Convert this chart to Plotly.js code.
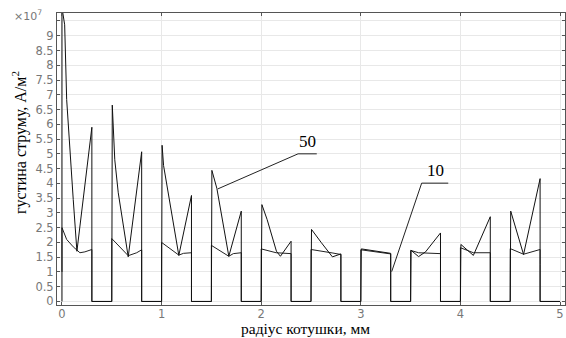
<!DOCTYPE html>
<html>
<head>
<meta charset="utf-8">
<script src="https://cdn.plot.ly/plotly-3.0.1.min.js"></script>
<style>html,body{margin:0;padding:0;background:#fff;}#chart{width:566px;height:338px;}</style>
</head>
<body>
<div id="chart"></div>
<script>
// radius, mm and current density in units of 1e7 A/m^2
const x50 = [0,0,0.027,0.047,0.113,0.15,0.30,0.30,
  0.5,0.505,0.53,0.565,0.665,0.80,0.80,
  1.0,1.005,1.02,1.173,1.30,1.30,
  1.5,1.505,1.555,1.675,1.80,1.80,
  2.0,2.007,2.06,2.153,2.193,2.30,2.30,
  2.5,2.505,2.604,2.715,2.80,2.80,
  3.0,3.005,3.30,3.30,
  3.5,3.505,3.58,3.65,3.72,3.80,3.80,
  4.0,4.005,4.13,4.30,4.30,
  4.5,4.505,4.634,4.80,4.80,5.0];
const y50 = [0,9.95,9.37,6.84,3.45,1.70,5.90,0,
  0,6.65,4.80,3.68,1.51,5.07,0,
  0,5.29,4.60,1.56,3.59,0,
  0,4.44,3.83,1.53,3.06,0,
  0,3.28,2.77,1.70,1.53,2.04,0,
  0,2.44,1.99,1.51,1.61,0,
  0,1.78,1.63,0,
  0,1.73,1.52,1.68,1.98,2.32,0,
  0,1.93,1.56,2.87,0,
  0,3.06,1.59,4.16,0,0];

const x10 = [0,0,0.047,0.113,0.18,0.23,0.30,0.30,0.30,
  0.5,0.5,0.665,0.75,0.80,0.80,
  1.0,1.0,1.173,1.22,1.30,1.30,1.30,
  1.5,1.5,1.675,1.72,1.80,1.80,
  2.0,2.0,2.15,2.30,2.30,2.30,
  2.5,2.5,2.72,2.80,2.80,
  3.0,3.0,3.30,3.30,3.30,
  3.5,3.5,3.58,3.80,3.80,
  4.0,4.0,4.13,4.30,4.30,
  4.5,4.5,4.634,4.80,4.80,4.80,5.0];
const y10 = [1.0,2.5,2.1,1.85,1.65,1.68,1.76,0.75,0,
  0,2.13,1.55,1.65,1.75,0,
  0,2.0,1.57,1.63,1.65,0.99,0,
  0,1.9,1.53,1.62,1.65,0,
  0,1.78,1.65,1.62,0.86,0,
  0,1.76,1.64,1.59,0,
  0,1.75,1.61,1.01,0,
  0,1.73,1.65,1.62,0,
  0,1.82,1.65,1.65,0,
  0,1.79,1.60,1.76,1.25,0,0];

const xTicks = [0,1,2,3,4,5];
const yTicks = [0,0.5,1,1.5,2,2.5,3,3.5,4,4.5,5,5.5,6,6.5,7,7.5,8,8.5,9,9.5];
const yTickText = ["0","0.5","1","1.5","2","2.5","3","3.5","4","4.5","5","5.5","6","6.5","7","7.5","8","8.5","9"," "];
const labels = ["50","10"];

const traces = [
  {x:x10, y:y10, type:'scatter', mode:'lines', name:labels[1], line:{color:'#222', width:1}},
  {x:x50, y:y50, type:'scatter', mode:'lines', name:labels[0], line:{color:'#111', width:1}}
];

const tickFont = {family:'DejaVu Sans, Verdana, sans-serif', size:11.5, color:'#777'};
const serif = {family:'Liberation Serif, Times New Roman, serif', size:16, color:'#000'};

const layout = {
  width:566, height:338,
  margin:{l:57, r:1, t:13, b:33},
  paper_bgcolor:'#fff', plot_bgcolor:'#fff',
  showlegend:false,
  xaxis:{range:[-0.05,5.05], tickvals:xTicks, showgrid:true, gridcolor:'#e8e8e8',
    zeroline:false, showline:true, linecolor:'#555', linewidth:1, mirror:'ticks',
    ticks:'inside', ticklen:3, tickcolor:'#555', tickfont:tickFont, ticklabelstandoff:-2},
  yaxis:{range:[-0.12,9.77], tickvals:yTicks, ticktext:yTickText, showgrid:true, gridcolor:'#e8e8e8',
    zeroline:false, showline:true, linecolor:'#555', linewidth:1, mirror:'ticks',
    ticks:'inside', ticklen:3, tickcolor:'#555', tickfont:tickFont},
  shapes:[
    {type:'line', xref:'x', yref:'y', x0:2.37, y0:5.0, x1:2.558, y1:5.0, line:{color:'#222', width:1}},
    {type:'line', xref:'x', yref:'y', x0:2.37, y0:5.0, x1:1.563, y1:3.81, line:{color:'#222', width:1}},
    {type:'line', xref:'x', yref:'y', x0:3.611, y0:4.007, x1:3.878, y1:4.007, line:{color:'#222', width:1}},
    {type:'line', xref:'x', yref:'y', x0:3.611, y0:4.007, x1:3.31, y1:1.01, line:{color:'#222', width:1}}
  ],
  annotations:[
    {xref:'x', yref:'y', x:2.464, y:5.0, yanchor:'bottom', xanchor:'center', yshift:1, showarrow:false, text:labels[0], font:{family:serif.family, size:17, color:'#000'}},
    {xref:'x', yref:'y', x:3.745, y:4.007, yanchor:'bottom', xanchor:'center', yshift:1, showarrow:false, text:labels[1], font:{family:serif.family, size:17, color:'#000'}},
    {xref:'paper', yref:'paper', x:-0.089, y:0.99, xanchor:'left', yanchor:'middle', showarrow:false, text:'×10<sup>7</sup>', font:{family:tickFont.family, size:11, color:'#777'}},
    {xref:'paper', yref:'paper', x:-0.0728, y:0.555, xanchor:'center', yanchor:'middle', textangle:-90, showarrow:false, text:'густина струму, А/м<sup>2</sup>', font:serif},
    {xref:'paper', yref:'paper', x:0.49, y:-0.1145, xanchor:'center', yanchor:'bottom', showarrow:false, borderpad:0, text:'радіус котушки, мм', font:{family:serif.family, size:15.5, color:'#000'}}
  ]
};

Plotly.newPlot('chart', traces, layout, {displayModeBar:false, staticPlot:true});
</script>
</body>
</html>
